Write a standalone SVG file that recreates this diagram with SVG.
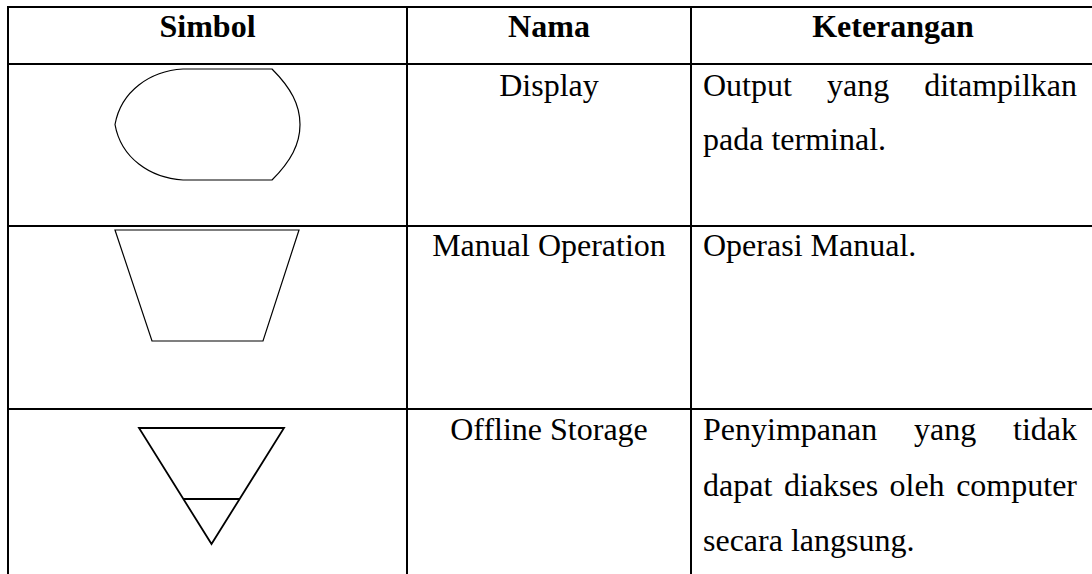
<svg xmlns="http://www.w3.org/2000/svg" width="1092" height="574" viewBox="0 0 1092 574">
<style>
.grid{stroke:#000;stroke-width:2;fill:none}
.sym{stroke:#000;stroke-width:1.2;fill:#fff}
.sym2{stroke:#000;stroke-width:1.8;fill:#fff}
.h{font-family:"Liberation Serif","Times New Roman",serif;font-size:32px;font-weight:bold;fill:#000}
.t{font-family:"Liberation Serif","Times New Roman",serif;font-size:32px;fill:#000}
</style>
<rect width="1092" height="574" fill="#fff"/>
<g id="table-lines">
<line class="grid" x1="7" y1="7" x2="1092" y2="7"/>
<line class="grid" x1="7" y1="64" x2="1092" y2="64"/>
<line class="grid" x1="7" y1="226" x2="1092" y2="226"/>
<line class="grid" x1="7" y1="409" x2="1092" y2="409"/>
<line class="grid" x1="8" y1="6" x2="8" y2="574"/>
<line class="grid" x1="407" y1="6" x2="407" y2="574"/>
<line class="grid" x1="691" y1="6" x2="691" y2="574"/>
</g>
<g id="header">
<text class="h" x="207.5" y="37" text-anchor="middle">Simbol</text>
<text class="h" x="549" y="37" text-anchor="middle">Nama</text>
<text class="h" x="893" y="37" text-anchor="middle">Keterangan</text>
</g>
<g id="display">
<path class="sym" d="M183,69 L272,69 C291,88 300,105 300,124.5 C300,144 291,161 272,180 L183,180 C150,178 121,158 115,124.5 C121,91 150,71 183,69 Z"/>
<text class="t" x="549" y="96" text-anchor="middle">Display</text>
<text class="t" x="703" y="96">Output</text>
<text class="t" x="827" y="96">yang</text>
<text class="t" x="1077" y="96" text-anchor="end">ditampilkan</text>
<text class="t" x="703" y="150">pada terminal.</text>
</g>
<g id="manual-operation">
<polygon class="sym" points="115,230 299,230 263,341 152,341"/>
<text class="t" x="549" y="256" text-anchor="middle">Manual Operation</text>
<text class="t" x="703" y="256">Operasi Manual.</text>
</g>
<g id="offline-storage">
<polygon class="sym2" points="139,428 284,428 211.5,544"/>
<line class="sym2" x1="183.5" y1="499" x2="239.5" y2="499"/>
<text class="t" x="549" y="440" text-anchor="middle">Offline Storage</text>
<text class="t" x="703" y="440">Penyimpanan</text>
<text class="t" x="914" y="440">yang</text>
<text class="t" x="1077" y="440" text-anchor="end">tidak</text>
<text class="t" x="703" y="496">dapat</text>
<text class="t" x="784" y="496">diakses</text>
<text class="t" x="889.5" y="496">oleh</text>
<text class="t" x="1077" y="496" text-anchor="end">computer</text>
<text class="t" x="703" y="551">secara langsung.</text>
</g>
</svg>
